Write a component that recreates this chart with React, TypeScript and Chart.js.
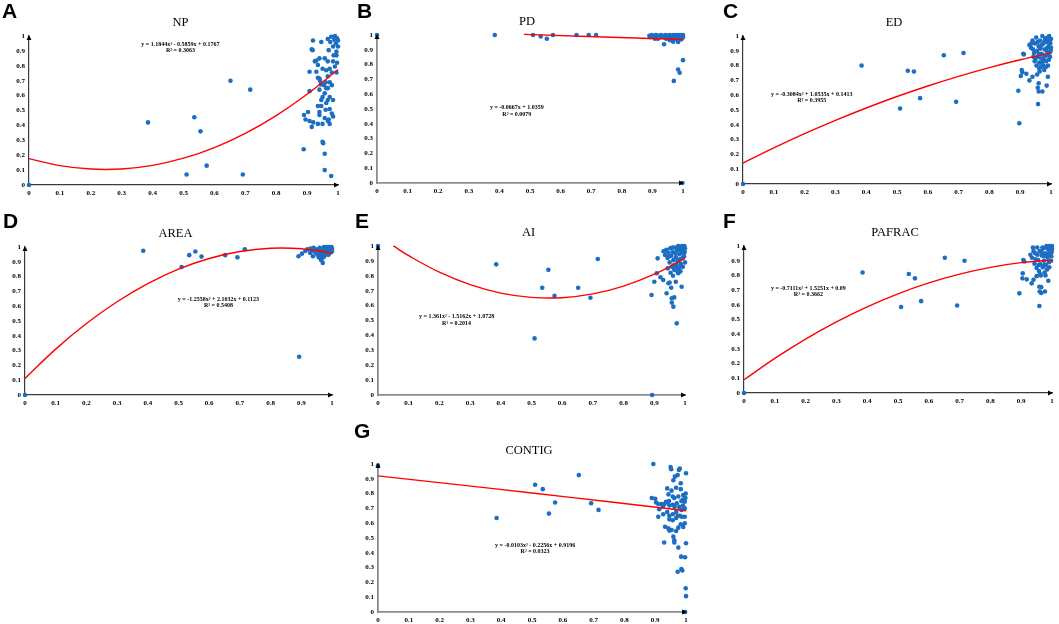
import { useEffect, useRef } from 'react';
import { Chart, registerables } from 'chart.js';

Chart.register(...registerables);

type Pt = [number, number];

// x positions shared by the eight isolated points in every panel
const outlierX = [0.385, 0.51, 0.535, 0.555, 0.575, 0.652, 0.692, 0.716];

const npOutY     = [0.42, 0.07, 0.455, 0.36, 0.13, 0.70, 0.07, 0.64];
const pdOutY     = [1.0, 1.0, 0.99, 0.975, 1.0, 1.0, 1.0, 1.0];
const edOutY     = [0.80, 0.51, 0.765, 0.76, 0.58, 0.87, 0.555, 0.885];
const areaOutY   = [0.975, 0.865, 0.945, 0.97, 0.935, 0.945, 0.93, 0.985];
const aiOutY     = [0.877, 0.38, 0.72, 0.84, 0.665, 0.72, 0.653, 0.913];
const pafracOutY = [0.82, 0.585, 0.81, 0.78, 0.625, 0.92, 0.595, 0.9];
const contigOutY = [0.635, 0.86, 0.83, 0.665, 0.74, 0.925, 0.735, 0.69];

const npCluster: Pt[] = [
  [0.919,0.97],[0.915,0.91],[0.918,0.905],[0.925,0.83],[0.93,0.835],[0.908,0.76],[0.93,0.76],[0.935,0.72],[0.94,0.715],[0.942,0.70],
  [0.908,0.63],[0.94,0.64],[0.946,0.57],[0.935,0.53],[0.946,0.53],[0.94,0.49],[0.903,0.49],[0.89,0.47],[0.895,0.44],[0.908,0.43],
  [0.92,0.42],[0.935,0.41],[0.915,0.39],[0.94,0.47],[0.957,0.45],[0.95,0.41],[0.967,0.43],[0.973,0.41],[0.889,0.24],[0.95,0.29],
  [0.952,0.28],[0.957,0.21],[0.957,0.10],[0.978,0.06],[0.946,0.96],[0.967,0.98],[0.978,0.995],[0.99,1.0],[0.997,0.985],[0.993,0.95],
  [0.984,0.93],[0.995,0.895],[0.97,0.905],[0.957,0.85],[0.967,0.83],[0.984,0.83],[0.99,0.795],[0.98,0.755],[0.995,0.755],[0.967,0.73],
  [0.96,0.69],[0.973,0.69],[0.98,0.67],[0.967,0.65],[0.957,0.615],[0.973,0.59],[0.984,0.57],[0.962,0.55],[0.973,0.51],[0.98,0.48],
  [0.984,0.46],[0.967,0.57],[0.95,0.59],[0.962,0.65],[0.995,0.87],[0.986,0.87],[0.973,0.78],[0.997,0.82],[1.0,0.93],[0.94,0.85],
  [0.935,0.805],[0.95,0.78],[0.962,0.77],[0.975,0.96],[0.988,0.975],[1.0,0.97],[0.955,0.67],[0.945,0.675],[0.96,0.505],[0.97,0.44],
];

const pdCluster: Pt[] = [
  [0.89,0.995],[0.893,0.985],[0.897,1.0],[0.9,0.99],[0.904,0.995],[0.908,0.985],[0.912,1.0],[0.915,0.99],[0.92,0.995],[0.924,0.985],
  [0.928,1.0],[0.932,0.99],[0.936,0.995],[0.94,0.985],[0.943,1.0],[0.946,0.99],[0.95,0.995],[0.953,0.98],[0.956,1.0],[0.959,0.99],
  [0.962,0.995],[0.965,0.98],[0.968,1.0],[0.97,0.99],[0.973,0.995],[0.975,0.975],[0.978,1.0],[0.98,0.985],[0.983,0.995],[0.985,0.98],
  [0.988,1.0],[0.99,0.99],[0.992,0.985],[0.994,1.0],[0.996,0.975],[0.998,0.99],[1.0,1.0],[1.0,0.985],[0.997,0.995],[0.993,0.97],
  [0.987,0.992],[0.982,0.97],[0.976,0.99],[0.96,0.97],[0.945,0.975],[0.918,0.975],[0.908,0.975],[0.938,0.937],[0.957,0.965],[0.968,0.955],
  [0.984,0.953],[0.97,0.69],[0.984,0.767],[0.989,0.745],[1.0,0.83],[0.998,0.0],
];

const edCluster: Pt[] = [
  [0.894,0.63],[0.897,0.41],[0.91,0.88],[0.912,0.875],[0.905,0.77],[0.907,0.755],[0.902,0.73],[0.92,0.745],[0.93,0.70],[0.94,0.725],
  [0.96,0.68],[0.957,0.65],[0.96,0.625],[0.972,0.625],[0.986,0.665],[0.99,0.725],[0.958,0.54],[0.93,0.94],[0.935,0.92],[0.94,0.97],
  [0.945,0.885],[0.948,0.95],[0.952,0.99],[0.955,0.9],[0.958,0.86],[0.96,0.93],[0.962,0.82],[0.965,0.97],[0.967,0.79],[0.97,0.88],
  [0.972,1.0],[0.974,0.84],[0.976,0.95],[0.978,0.77],[0.98,0.91],[0.982,0.985],[0.984,0.83],[0.986,0.87],[0.988,0.96],[0.99,0.8],
  [0.992,0.93],[0.994,1.0],[0.996,0.89],[0.998,0.95],[1.0,0.98],[1.0,0.92],[0.997,0.86],[0.993,0.84],[0.985,0.9],[0.975,0.8],
  [0.968,0.85],[0.963,0.76],[0.953,0.8],[0.947,0.83],[0.943,0.86],[0.95,0.845],[0.96,0.88],[0.97,0.94],[0.98,0.97],[0.99,0.99],
  [0.995,0.97],[0.988,0.92],[0.979,0.86],[0.966,0.915],[0.957,0.96],[0.942,0.91],[0.937,0.95],[0.962,0.78],[0.955,0.74],[0.971,0.82],
  [0.983,0.79],[0.999,0.9],[0.991,0.87],
];

const areaCluster: Pt[] = [
  [0.891,0.937],[0.902,0.955],[0.913,0.973],[0.92,0.985],[0.929,0.96],[0.938,0.937],[0.97,0.892],[0.989,0.948],[0.893,0.258],[0.93,0.99],
  [0.935,0.975],[0.94,0.995],[0.945,0.965],[0.948,0.985],[0.952,0.95],[0.955,0.975],[0.957,0.93],[0.96,0.995],[0.962,0.96],[0.964,0.92],
  [0.966,0.985],[0.968,0.945],[0.97,0.97],[0.972,0.93],[0.974,1.0],[0.976,0.955],[0.978,0.985],[0.98,0.965],[0.982,0.995],[0.984,0.975],
  [0.986,0.96],[0.988,1.0],[0.99,0.985],[0.992,0.97],[0.994,0.995],[0.996,0.98],[0.998,1.0],[1.0,0.99],[1.0,0.975],[0.997,0.965],
  [0.993,1.0],[0.985,0.99],[0.979,1.0],[0.971,0.99],[0.963,0.975],[0.958,0.95],[0.95,0.97],[0.943,0.98],[0.96,0.94],[0.965,0.91],
  [0.975,0.94],[0.983,0.95],[0.999,0.97],[0.991,0.96],
];

const aiCluster: Pt[] = [
  [0.911,0.917],[0.891,0.671],[0.9,0.76],[0.908,0.817],[0.92,0.79],[0.929,0.772],[0.94,0.683],[0.946,0.75],[0.957,0.649],[0.957,0.62],
  [0.962,0.593],[0.965,0.655],[0.973,0.481],[0.989,0.727],[0.95,0.755],[0.955,0.72],[0.97,0.76],[0.978,0.817],[0.985,0.83],[0.893,0.0],
  [0.93,0.965],[0.935,0.94],[0.94,0.975],[0.943,0.92],[0.946,0.955],[0.95,0.89],[0.952,0.985],[0.955,0.935],[0.958,0.86],[0.96,0.96],
  [0.962,0.905],[0.965,0.84],[0.967,0.99],[0.97,0.925],[0.972,0.875],[0.974,0.97],[0.976,0.9],[0.978,1.0],[0.98,0.85],[0.982,0.945],
  [0.984,0.985],[0.986,0.88],[0.988,0.96],[0.99,1.0],[0.992,0.92],[0.994,0.975],[0.996,0.95],[0.998,1.0],[1.0,0.985],[1.0,0.89],
  [0.997,0.93],[0.993,0.86],[0.983,0.91],[0.975,0.83],[0.963,0.87],[0.953,0.82],[0.944,0.85],[0.937,0.97],[0.948,0.93],[0.959,0.99],
  [0.969,0.95],[0.979,0.98],[0.989,0.99],[0.999,0.96],[0.987,0.87],[0.961,0.8],[0.971,0.86],
];

const pafracCluster: Pt[] = [
  [0.894,0.678],[0.905,0.814],[0.904,0.78],[0.907,0.905],[0.91,0.895],[0.918,0.773],[0.934,0.746],[0.94,0.77],[0.959,0.723],[0.96,0.69],
  [0.965,0.68],[0.977,0.69],[0.988,0.764],[0.959,0.592],[0.965,0.72],[0.95,0.795],[0.93,0.94],[0.935,0.92],[0.94,0.965],[0.943,0.88],
  [0.946,0.95],[0.95,0.85],[0.952,0.99],[0.955,0.905],[0.958,0.83],[0.96,0.965],[0.962,0.875],[0.964,0.8],[0.967,0.935],[0.97,0.855],
  [0.972,0.985],[0.974,0.9],[0.976,0.82],[0.978,0.95],[0.98,0.87],[0.982,1.0],[0.984,0.84],[0.986,0.92],[0.988,0.975],[0.99,0.89],
  [0.992,1.0],[0.994,0.95],[0.996,0.99],[0.998,0.93],[1.0,0.98],[1.0,1.0],[0.997,0.9],[0.991,0.855],[0.983,0.94],[0.975,0.87],
  [0.966,0.96],[0.956,0.87],[0.947,0.91],[0.938,0.99],[0.961,0.81],[0.979,0.8],[0.969,0.99],[0.989,0.945],[0.999,0.96],[0.985,0.985],
  [0.973,0.93],[0.953,0.94],
];

const contigCluster: Pt[] = [
  [0.894,1.0],[0.95,0.98],[0.952,0.965],[0.977,0.96],[0.98,0.97],[1.0,0.937],[0.964,0.915],[0.973,0.925],[0.959,0.89],[0.983,0.87],
  [0.983,0.83],[0.939,0.835],[0.953,0.82],[0.968,0.84],[0.943,0.795],[0.957,0.78],[0.962,0.77],[0.975,0.78],[0.985,0.75],[0.991,0.79],
  [0.996,0.745],[0.999,0.8],[0.889,0.77],[0.9,0.765],[0.903,0.74],[0.91,0.73],[0.92,0.73],[0.93,0.73],[0.94,0.74],[0.946,0.72],
  [0.957,0.725],[0.963,0.71],[0.978,0.71],[0.985,0.69],[0.996,0.70],[0.913,0.694],[0.926,0.66],[0.939,0.675],[0.946,0.65],[0.957,0.66],
  [0.968,0.675],[0.973,0.65],[0.986,0.644],[0.996,0.644],[0.91,0.644],[0.946,0.626],[0.957,0.62],[0.968,0.635],[0.98,0.65],[0.932,0.576],
  [0.943,0.565],[0.946,0.55],[0.983,0.593],[0.991,0.575],[0.996,0.6],[0.975,0.57],[0.968,0.547],[0.953,0.554],[0.959,0.509],[0.929,0.47],
  [0.962,0.47],[0.962,0.485],[0.975,0.435],[1.0,0.465],[0.984,0.374],[0.997,0.37],[0.973,0.272],[0.985,0.29],[0.988,0.28],[0.999,0.16],
  [1.0,0.107],[0.994,0.0],[0.997,0.0],[0.945,0.75],[0.97,0.735],[0.99,0.76],[0.935,0.745],[0.925,0.715],[0.99,0.72],[0.998,0.77],
];

// fitted trend lines, read at fixed x steps
const fitX       = [0, 0.1, 0.2, 0.3, 0.4, 0.5, 0.6, 0.7, 0.8, 0.9, 1];
const npFit      = [0.1767, 0.1300, 0.1069, 0.1075, 0.1318, 0.1799, 0.2515, 0.3469, 0.4660, 0.6088, 0.7752];
const pdFitX     = [0.48, 1];
const pdFit      = [1.0039, 0.9692];
const edFit      = [0.1413, 0.2436, 0.3397, 0.4296, 0.5134, 0.5910, 0.6624, 0.7276, 0.7867, 0.8396, 0.8864];
const areaFit    = [0.1123, 0.3101, 0.4827, 0.6302, 0.7527, 0.8500, 0.9221, 0.9692, 0.9911, 0.9880, 0.9597];
const aiFitX     = [0.05, 0.1, 0.2, 0.3, 0.4, 0.5, 0.6, 0.7, 0.8, 0.9, 1];
const aiFit      = [1.0004, 0.9348, 0.8240, 0.7404, 0.6841, 0.6550, 0.6530, 0.6784, 0.7309, 0.8106, 0.9176];
const pafracFit  = [0.09, 0.2354, 0.3666, 0.4835, 0.5863, 0.6748, 0.7491, 0.8091, 0.8550, 0.8866, 0.9040];
const contigFitX = [0, 0.25, 0.5, 0.75, 1];
const contigFit  = [0.9196, 0.8626, 0.8042, 0.7446, 0.6837];

const blue = '#1B6EC2';
const serif = '"Liberation Serif", "Times New Roman", serif';

interface Panel {
  letter: string; title: string; eq: string; r2: string; note: Pt;
  origin: Pt; outY: number[]; cluster: Pt[]; fx: number[]; fy: number[];
  box: { left: number; top: number; w: number; h: number };
  area: { l: number; t: number; r: number; b: number };
  letterAt: Pt; axis: string; axisW: number;
}

const dark = '#3c3c3c';
const grey = '#8c8c8c';

const panels: Panel[] = [
  { letter: 'A', title: 'NP', eq: 'y = 1.1844x² - 0.5859x + 0.1767', r2: 'R² = 0.3063', note: [0.49, 0.946],
    origin: [0, 0], outY: npOutY, cluster: npCluster, fx: fitX, fy: npFit,
    box: { left: 0, top: 0, w: 350, h: 205 }, area: { l: 29, t: 36, r: 338, b: 185 }, letterAt: [2, 0], axis: dark, axisW: 1.2 },
  { letter: 'B', title: 'PD', eq: 'y = -0.0667x + 1.0359', r2: 'R² = 0.0079', note: [0.457, 0.51],
    origin: [0, 1], outY: pdOutY, cluster: pdCluster, fx: pdFitX, fy: pdFit,
    box: { left: 350, top: 0, w: 350, h: 205 }, area: { l: 377, t: 35, r: 683, b: 183 }, letterAt: [357, 0], axis: grey, axisW: 1.8 },
  { letter: 'C', title: 'ED', eq: 'y = -0.3084x² + 1.0535x + 0.1413', r2: 'R² = 0.3955', note: [0.223, 0.608],
    origin: [0, 0], outY: edOutY, cluster: edCluster, fx: fitX, fy: edFit,
    box: { left: 700, top: 0, w: 359, h: 205 }, area: { l: 743, t: 36, r: 1051, b: 184 }, letterAt: [723, 0], axis: dark, axisW: 1.2 },
  { letter: 'D', title: 'AREA', eq: 'y = -1.2558x² + 2.1032x + 0.1123', r2: 'R² = 0.5408', note: [0.63, 0.647],
    origin: [0, 0], outY: areaOutY, cluster: areaCluster, fx: fitX, fy: areaFit,
    box: { left: 0, top: 200, w: 350, h: 212 }, area: { l: 25, t: 247, r: 332, b: 395 }, letterAt: [3, 210], axis: dark, axisW: 1.2 },
  { letter: 'E', title: 'AI', eq: 'y = 1.361x² - 1.5162x + 1.0728', r2: 'R² = 0.2014', note: [0.256, 0.526],
    origin: [0, 1], outY: aiOutY, cluster: aiCluster, fx: aiFitX, fy: aiFit,
    box: { left: 350, top: 200, w: 350, h: 212 }, area: { l: 378, t: 246, r: 685, b: 395 }, letterAt: [355, 210], axis: grey, axisW: 1.8 },
  { letter: 'F', title: 'PAFRAC', eq: 'y = -0.7111x² + 1.5251x + 0.09', r2: 'R² = 0.3662', note: [0.209, 0.712],
    origin: [0, 0], outY: pafracOutY, cluster: pafracCluster, fx: fitX, fy: pafracFit,
    box: { left: 700, top: 200, w: 359, h: 212 }, area: { l: 744, t: 246, r: 1052, b: 393 }, letterAt: [723, 210], axis: dark, axisW: 1.2 },
  { letter: 'G', title: 'CONTIG', eq: 'y = -0.0103x² - 0.2256x + 0.9196', r2: 'R² = 0.0323', note: [0.51, 0.453],
    origin: [0, 0.99], outY: contigOutY, cluster: contigCluster, fx: contigFitX, fy: contigFit,
    box: { left: 300, top: 405, w: 400, h: 219 }, area: { l: 378, t: 464, r: 686, b: 612 }, letterAt: [354, 420], axis: grey, axisW: 1.8 },
];

// "0", "0.1" ... "1", as the reference prints them
const tickLabel = (v: number | string) => Number(v).toFixed(1).replace(/\.0$/, '');

const panelDecor = {
  id: 'panelDecor',
  afterDraw(chart: any, _args: any, opts: any) {
    const { ctx, chartArea: a, scales } = chart;
    ctx.save();
    ctx.fillStyle = '#000';
    ctx.beginPath();
    ctx.moveTo(a.left, a.top - 1);
    ctx.lineTo(a.left - 2.5, a.top + 4);
    ctx.lineTo(a.left + 2.5, a.top + 4);
    ctx.fill();
    ctx.beginPath();
    ctx.moveTo(a.right + 1, a.bottom);
    ctx.lineTo(a.right - 4, a.bottom - 2.5);
    ctx.lineTo(a.right - 4, a.bottom + 2.5);
    ctx.fill();

    ctx.textAlign = 'center';
    ctx.textBaseline = 'middle';
    ctx.font = `12.5px ${serif}`;
    ctx.fillText(opts.title, (a.left + a.right) / 2 - 3, a.top - 13);

    ctx.font = `bold 6px ${serif}`;
    const x = scales.x.getPixelForValue(opts.note[0]);
    const y = scales.y.getPixelForValue(opts.note[1]);
    ctx.fillText(opts.eq, x, y);
    ctx.fillText(opts.r2, x, y + 6.5);
    ctx.restore();
  },
};

function ScatterPanel({ p }: { p: Panel }) {
  const ref = useRef<HTMLCanvasElement>(null);

  useEffect(() => {
    if (!ref.current) return;
    const { box, area } = p;
    const yW = area.l - box.left;
    const xH = 14;
    const points = [
      { x: p.origin[0], y: p.origin[1] },
      ...outlierX.map((x, i) => ({ x, y: p.outY[i] })),
      ...p.cluster.map(([x, y]) => ({ x, y })),
    ];
    const tickFont = { family: serif, size: 7, weight: 'bold' as const };

    const chart = new Chart(ref.current, {
      type: 'scatter',
      data: {
        datasets: [
          {
            type: 'line',
            data: p.fx.map((x, i) => ({ x, y: p.fy[i] })),
            borderColor: '#ff0000',
            borderWidth: 1.4,
            pointRadius: 0,
            tension: 0.4,
            fill: false,
            order: 0,
            clip: false,
          } as any,
          {
            type: 'scatter',
            data: points,
            backgroundColor: blue,
            borderWidth: 0,
            pointRadius: 2.3,
            order: 1,
            clip: false,
          } as any,
        ],
      },
      options: {
        animation: false,
        responsive: false,
        events: [],
        layout: {
          padding: {
            left: 0,
            top: area.t - box.top,
            right: box.left + box.w - area.r,
            bottom: box.top + box.h - area.b - xH,
          },
        },
        plugins: {
          legend: { display: false },
          tooltip: { enabled: false },
          panelDecor: { title: p.title, eq: p.eq, r2: p.r2, note: p.note },
        } as any,
        scales: {
          x: {
            type: 'linear', min: 0, max: 1,
            ticks: { stepSize: 0.1, color: '#000', font: tickFont, padding: 4, maxRotation: 0, autoSkip: false, callback: tickLabel },
            grid: { display: false, drawTicks: false },
            border: { display: true, color: p.axis, width: p.axisW },
            afterFit: (s: any) => { s.height = xH; },
          },
          y: {
            type: 'linear', min: 0, max: 1,
            ticks: { stepSize: 0.1, color: '#000', font: tickFont, padding: 4, autoSkip: false, callback: tickLabel },
            grid: { display: false, drawTicks: false },
            border: { display: true, color: p.axis, width: p.axisW },
            afterFit: (s: any) => { s.width = yW; },
          },
        },
      },
      plugins: [panelDecor],
    });
    return () => chart.destroy();
  }, [p]);

  return (
    <>
      <canvas
        ref={ref}
        width={p.box.w}
        height={p.box.h}
        style={{ position: 'absolute', left: p.box.left, top: p.box.top }}
      />
      <div
        style={{
          position: 'absolute', left: p.letterAt[0], top: p.letterAt[1],
          font: 'bold 21px "Liberation Sans", Arial, sans-serif', lineHeight: '21px', color: '#000',
        }}
      >
        {p.letter}
      </div>
    </>
  );
}

export default function App() {
  return (
    <div style={{ position: 'fixed', left: 0, top: 0, width: 1059, height: 624, background: '#fff', overflow: 'hidden' }}>
      {panels.map(p => <ScatterPanel key={p.letter} p={p} />)}
    </div>
  );
}
